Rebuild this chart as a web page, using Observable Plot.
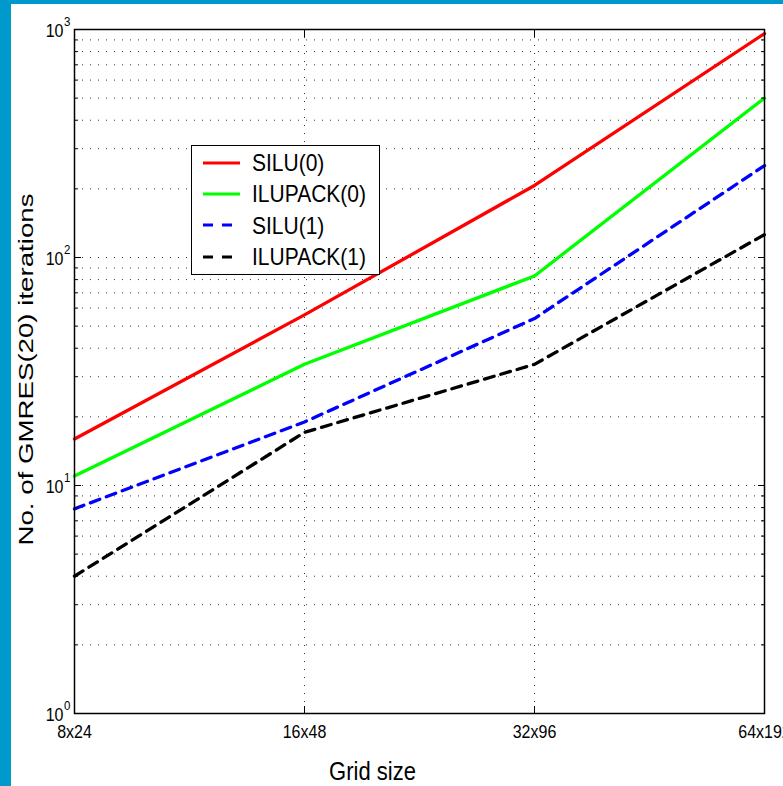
<!DOCTYPE html>
<html><head><meta charset="utf-8">
<script src="https://cdn.jsdelivr.net/npm/d3@7"></script>
<script src="https://cdn.jsdelivr.net/npm/@observablehq/plot@0.6"></script>
<style>
html,body{margin:0;padding:0;background:#fff;overflow:hidden;}
#wrap{position:relative;width:783px;height:786px;font-family:"Liberation Sans",Arial,sans-serif;overflow:hidden;}
#chart{position:absolute;left:0;top:0;}
#bl{position:absolute;left:0;top:0;width:11px;height:786px;background:#0099cc;}
#bt{position:absolute;left:0;top:0;width:783px;height:4px;background:#0099cc;}
#legend{position:absolute;left:191px;top:145px;width:189px;height:130px;box-sizing:border-box;border:1.5px solid #000;background:#fff;padding-top:1px;}
.lrow{display:flex;align-items:center;height:31.3px;}
.lrow svg{margin-left:11px;margin-right:12px;}
.lrow span{font-size:21px;color:#000;line-height:1;display:inline-block;transform:scaleY(1.14);}
</style></head><body>
<div id="wrap"><div id="chart"></div><div id="legend"></div><div id="bl"></div><div id="bt"></div></div>
<script>
const grids = ["8x24","16x48","32x96","64x192"];
const seriesNames = ["SILU(0)","ILUPACK(0)","SILU(1)","ILUPACK(1)"];
const silu0 = [16, 56, 207, 960];
const ilupack0 = [11, 34, 83, 500];
const silu1 = [7.9, 19, 54, 253];
const ilupack1 = [4, 17.1, 34, 126];
const seriesValues = [silu0, ilupack0, silu1, ilupack1];
const colors = ["#ff0000", "#00ff00", "#0000ff", "#000000"];
const dashes = [null, null, "10,7", "10,7"];
const yMajor = [1, 10, 100, 1000];
const yTickExponents = ["0", "1", "2", "3"];
const yMultipliers = [2, 3, 4, 5, 6, 7, 8, 9];
const yMinor = yMajor.slice(0, 3).flatMap(k => yMultipliers.map(m => k * m));
const xGridCats = ["16x48", "32x96"];

const table = [];
seriesNames.forEach((s, i) => grids.forEach((g, j) => table.push({series: s, grid: g, value: seriesValues[i][j]})));

const dotted = {stroke: "#000", strokeDasharray: "1,7", strokeWidth: 1, strokeOpacity: 0.8};

const plot = Plot.plot({
  width: 783, height: 786,
  marginLeft: 74, marginRight: 19, marginTop: 29, marginBottom: 73,
  style: {fontFamily: "Liberation Sans, Arial, sans-serif", fontSize: "15px", color: "#000", background: "transparent", overflow: "visible"},
  x: {type: "point", domain: grids, padding: 0, label: null, axis: null},
  y: {type: "log", domain: [1, 1000], label: null, axis: null},
  marks: [
    Plot.ruleY([...yMinor, 10, 100], dotted),
    Plot.ruleX(xGridCats, dotted),
    ...seriesNames.map((s, i) => Plot.line(table.filter(d => d.series === s), {
      x: "grid", y: "value", stroke: colors[i], strokeWidth: 3.3,
      strokeDasharray: dashes[i] || undefined
    })),
    Plot.axisY(yMinor, {anchor: "left", tickSize: -4, tickFormat: () => "", label: null}),
    Plot.axisY(yMajor, {anchor: "left", tickSize: -7, tickFormat: () => "", label: null}),
    Plot.axisY(yMinor, {anchor: "right", tickSize: -4, tickFormat: () => "", label: null}),
    Plot.axisY(yMajor, {anchor: "right", tickSize: -7, tickFormat: () => "", label: null}),
    Plot.axisX(xGridCats, {anchor: "bottom", tickSize: -7, tickFormat: () => "", label: null}),
    Plot.axisX(xGridCats, {anchor: "top", tickSize: -7, tickFormat: () => "", label: null}),
    Plot.frame({stroke: "#000", strokeWidth: 1.5}),
    Plot.text(yMajor, {y: d => d, text: () => "10", frameAnchor: "left", textAnchor: "end", dx: -11, dy: 1.5, fontSize: 16}),
    Plot.text(yMajor, {y: d => d, text: (d, i) => yTickExponents[i], frameAnchor: "left", textAnchor: "start", dx: -10.5, dy: -8, fontSize: 11.5}),
    Plot.text(grids, {x: d => d, text: d => d, frameAnchor: "bottom", lineAnchor: "top", dy: 12, fontSize: 16}),
    Plot.text(["Grid size"], {text: d => d, frameAnchor: "bottom", lineAnchor: "top", dx: -47, dy: 49, fontSize: 22}),
    Plot.text(["No. of GMRES(20) iterations"], {text: d => d, frameAnchor: "left", rotate: -90, lineAnchor: "middle", textAnchor: "start", dx: -48, dy: 174, fontSize: 21})
  ]
});
document.getElementById("chart").appendChild(plot);

d3.select(plot).selectAll("text").each(function () {
  if (this.textContent.includes("GMRES")) {
    this.setAttribute("textLength", 352);
    this.setAttribute("lengthAdjust", "spacingAndGlyphs");
    return;
  }
  const t = this.getAttribute("transform");
  if (t && t.includes("translate")) this.setAttribute("transform", t + " scale(1,1.13)");
});

const legend = d3.select("#legend");
seriesNames.forEach((s, i) => {
  const row = legend.append("div").attr("class", "lrow");
  const svg = row.append("svg").attr("width", 37).attr("height", 6);
  svg.append("line").attr("x1", 0).attr("x2", 37).attr("y1", 3).attr("y2", 3)
    .attr("stroke", colors[i]).attr("stroke-width", 3.2)
    .attr("stroke-dasharray", dashes[i] ? "10,9" : null);
  row.append("span").text(s);
});
</script>
</body></html>
